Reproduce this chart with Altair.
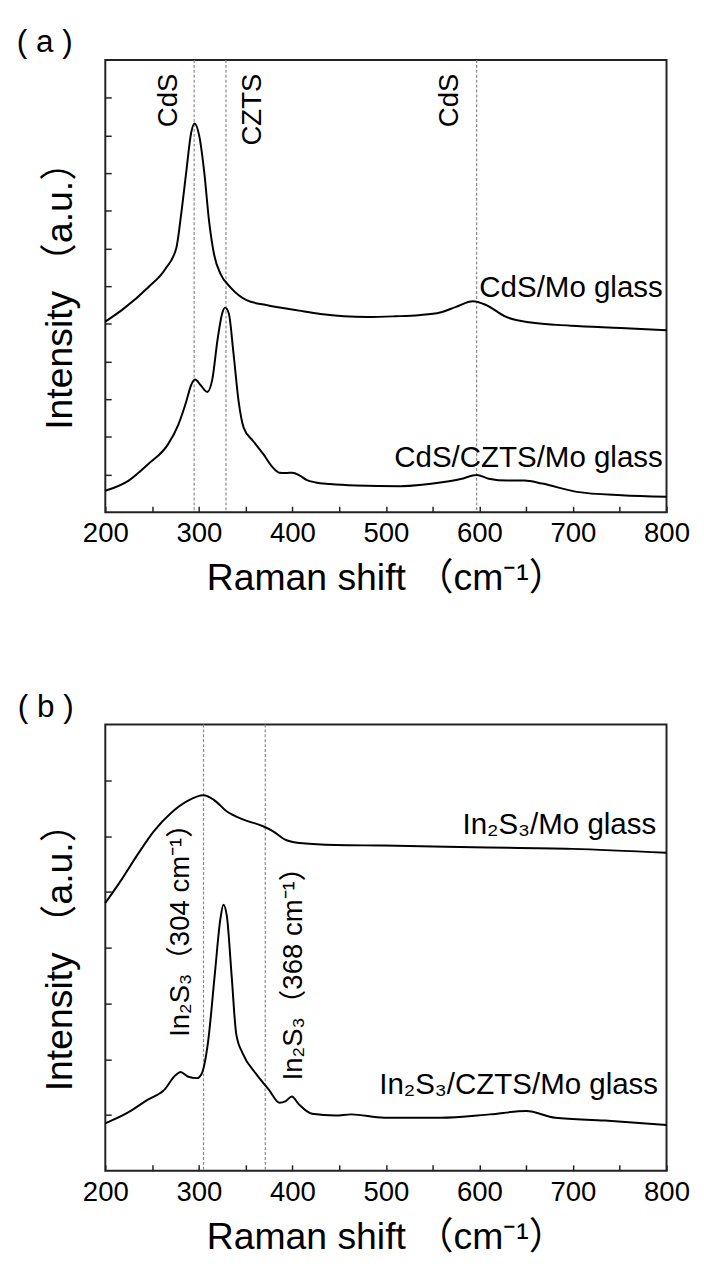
import altair as alt
import pandas as pd

FONT = "Liberation Sans, Arial, Noto Sans CJK SC, sans-serif"

# ---------------- panel (a) data ----------------
a_top_shift = [200, 218, 246, 264, 276, 281, 286.5, 291.7, 295.3, 300.6, 305.8, 311, 316.3, 323.3,
               333.8, 351, 372, 407, 430, 455, 480, 510, 535, 558, 575, 593, 607, 628, 653, 698, 751, 800]
a_top_int = [5.06, 5.37, 5.97, 6.45, 7.02, 7.89, 9.02, 10.06, 10.32, 9.97, 9.02, 7.71, 6.84, 6.32,
             5.97, 5.63, 5.50, 5.35, 5.26, 5.20, 5.18, 5.20, 5.23, 5.30, 5.45, 5.60, 5.50, 5.19, 5.04,
             4.95, 4.89, 4.83]
a_bot_shift = [200, 225, 246, 267, 278, 286.5, 291.7, 296, 302, 309, 314.5, 320, 325, 328, 332, 337,
               342.6, 348, 358, 369, 379, 386, 393, 400, 408, 415, 425, 440, 468, 515, 562, 580, 597,
               610, 630, 648, 667, 704, 752, 800]
a_bot_int = [0.57, 0.84, 1.28, 1.80, 2.32, 2.93, 3.37, 3.52, 3.37, 3.19, 3.54, 4.58, 5.28, 5.43, 5.28,
             4.23, 2.93, 2.24, 1.89, 1.54, 1.19, 1.05, 1.04, 1.05, 0.97, 0.86, 0.79, 0.75, 0.71, 0.69,
             0.80, 0.88, 0.99, 0.89, 0.84, 0.84, 0.76, 0.54, 0.45, 0.41]
a_series = ["CdS/Mo glass", "CdS/CZTS/Mo glass"]
a_series_lab_x = [796, 796]
a_series_lab_y = [5.71, 1.20]
a_peaks = [295, 329, 597]
a_peak_labels = ["CdS", "CZTS", "CdS"]
a_peak_lab_x = [268, 358, 569]
a_peak_lab_y = [11.64, 11.64, 11.64]
a_yticks = [1, 2, 3, 4, 5, 6, 7, 8, 9, 10, 11]

# ---------------- panel (b) data ----------------
b_top_shift = [200, 217, 235, 252, 270, 288, 305, 316, 330, 347, 368, 379, 393, 411, 446, 498, 594, 699, 800]
b_top_int = [4.80, 5.21, 5.68, 6.09, 6.41, 6.63, 6.73, 6.65, 6.44, 6.30, 6.18, 6.09, 5.93, 5.87, 5.84,
             5.83, 5.80, 5.77, 5.70]
b_bot_shift = [200, 224, 245, 263, 275, 280.5, 288, 298, 303, 310, 317, 323, 326.3, 330, 335, 340, 347,
               361, 375, 386, 393, 399.4, 407, 421, 446, 463, 498, 558, 611, 650, 681, 734, 800]
b_bot_int = [0.85, 1.04, 1.27, 1.45, 1.71, 1.77, 1.69, 1.66, 1.74, 2.33, 3.51, 4.51, 4.77, 4.56, 3.51,
             2.45, 2.10, 1.74, 1.45, 1.22, 1.25, 1.33, 1.19, 1.02, 0.99, 1.01, 0.95, 0.95, 1.01, 1.07,
             0.95, 0.90, 0.82]
b_series = ["In₂S₃/Mo glass", "In₂S₃/CZTS/Mo glass"]
b_series_lab_x = [789, 791]
b_series_lab_y = [6.04, 1.37]
b_peaks = [305, 371]
b_peak_labels = ["In₂S₃（304 cm⁻¹）", "In₂S₃（368 cm⁻¹）"]
b_peak_lab_x = [281, 402]
b_peak_lab_y = [2.40, 1.62]
b_yticks = [1, 2, 3, 4, 5, 6, 7]

x_ticks = list(range(200, 801, 50))
panel_tags = ["( a )", "( b )"]

X_TITLE = "Raman shift （cm⁻¹）"
Y_TITLE = "Intensity （a.u.）"


def panel(top_x, top_y, bot_x, bot_y, series, slx, sly, peaks, plabels, plx, ply, palign,
          ymax, yticks, height, tag, tag_x):
    curves = pd.DataFrame({
        "shift": top_x + bot_x,
        "intensity": top_y + bot_y,
        "series": [series[0]] * len(top_x) + [series[1]] * len(bot_x),
    })
    x_enc = alt.X(
        "shift:Q",
        scale=alt.Scale(domain=[200, 800], nice=False, zero=False),
        axis=alt.Axis(values=x_ticks, labelExpr="datum.value % 100 == 0 ? datum.label : ''",
                      title=X_TITLE, offset=-6, tickSize=6, domain=False, grid=False,
                      labelPadding=8, titlePadding=13, labelFlush=False, labelOverlap=False,
                      format="d"),
    )
    y_enc = alt.Y(
        "intensity:Q",
        scale=alt.Scale(domain=[0, ymax], nice=False, zero=False),
        axis=alt.Axis(values=yticks, labels=False, title=Y_TITLE, offset=-6, tickSize=6,
                      domain=False, grid=False, titlePadding=26),
    )
    rules = alt.Chart(pd.DataFrame({"shift": peaks})).mark_rule(
        color="#888888", strokeDash=[3, 2], strokeWidth=1.2
    ).encode(x=x_enc)
    lines = alt.Chart(curves).mark_line(
        color="black", strokeWidth=2, interpolate="monotone"
    ).encode(x=x_enc, y=y_enc, detail="series:N")
    slabels = alt.Chart(pd.DataFrame({"shift": slx, "intensity": sly, "t": series})).mark_text(
        align="right", baseline="alphabetic", fontSize=30, font=FONT, color="black"
    ).encode(x=x_enc, y=y_enc, text="t:N")
    plabels_c = alt.Chart(pd.DataFrame({"shift": plx, "intensity": ply, "t": plabels})).mark_text(
        angle=270, align=palign, baseline="middle", fontSize=28, font=FONT, color="black"
    ).encode(x=x_enc, y=y_enc, text="t:N")
    tag_c = alt.Chart(pd.DataFrame({"t": [tag]})).mark_text(
        align="left", baseline="middle", fontSize=32, font=FONT, color="black"
    ).encode(x=alt.value(tag_x), y=alt.value(-18), text="t:N")
    return alt.layer(rules, lines, slabels, plabels_c, tag_c).properties(width=571, height=height)


pa = panel(a_top_shift, a_top_int, a_bot_shift, a_bot_int, a_series, a_series_lab_x, a_series_lab_y,
           a_peaks, a_peak_labels, a_peak_lab_x, a_peak_lab_y, "right", 12, a_yticks, 460,
           panel_tags[0], -90)
pb = panel(b_top_shift, b_top_int, b_bot_shift, b_bot_int, b_series, b_series_lab_x, b_series_lab_y,
           b_peaks, b_peak_labels, b_peak_lab_x, b_peak_lab_y, "left", 8, b_yticks, 454,
           panel_tags[1], -89)

chart = alt.vconcat(pa, pb, spacing=216, bounds="flush").properties(
    padding={"left": 8, "top": 7, "right": 5, "bottom": 2}
).configure_view(
    stroke="#222222", strokeWidth=2
).configure_axis(
    labelFont=FONT, titleFont=FONT, labelFontSize=28, titleFontSize=38,
    labelColor="black", titleColor="black", tickColor="#222222", tickWidth=1.5,
    titleFontWeight="normal"
)

chart.save("out.html", embed_options={"renderer": "svg", "actions": False})
